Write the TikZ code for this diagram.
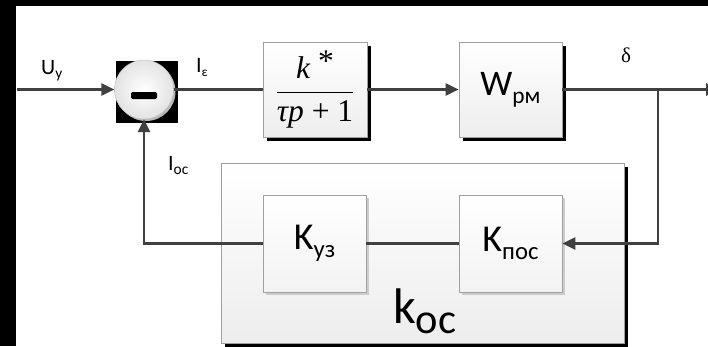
\documentclass[tikz,border=0pt]{standalone}
\usepackage{fontspec}
\usepackage{graphicx}
\usepackage{amsmath}
\setmainfont{Carlito}
\newfontfamily\serifx{Liberation Serif}
\usetikzlibrary{arrows.meta,shadows}
\definecolor{ln}{HTML}{404040}
\definecolor{bd}{HTML}{A0A0A0}
\newcommand\subx[3][-0.22em]{\raisebox{#1}{\scalebox{#2}{#3}}}
\begin{document}
\begin{tikzpicture}[x=1pt,y=-1pt,
  wire/.style={draw=ln,line width=2.6pt},
  arr/.style={wire,-{Triangle[length=13pt,width=12pt]}},
  blk/.style={draw=bd,line width=0.8pt,top color=white,bottom color=gray!14,inner sep=0pt,
    drop shadow={shadow xshift=4pt,shadow yshift=-4pt,fill=black,opacity=1}},
  inblk/.style={draw=bd,line width=0.8pt,top color=white,bottom color=gray!10,inner sep=0pt,
    drop shadow={shadow xshift=3pt,shadow yshift=-3pt,fill=gray!40,opacity=1}},
  lbl/.style={inner sep=0pt,font=\fontsize{22}{26}\selectfont}
]
\useasboundingbox (0,0) rectangle (708,346);
\fill[white] (0,0) rectangle (708,346);
\fill[black] (0,0) rectangle (16,346);
\fill[black] (0,0) rectangle (708,6);

% big feedback box
\node[blk,minimum width=403pt,minimum height=180pt] (koc) at (422.5,253) {};
\node[inner sep=0pt,anchor=base west,font=\fontsize{50}{60}\selectfont] (koclbl) at (393,323) {k\subx[-0.2em]{0.85}{ос}};

% forward blocks
\node[blk,minimum width=104pt,minimum height=95pt] (b1) at (315,89.5)
  {\scalebox{3.15}{$\dfrac{\text{\serifx\itshape k\upshape\ \raisebox{0.25em}{*}}}{\text{\serifx\itshape τp\upshape\ + 1}}$}};
\node[blk,minimum width=103pt,minimum height=95pt,font=\fontsize{36}{40}\selectfont] (w) at (510.5,89.5)
  {W\subx{0.65}{рм}};

% inner blocks
\node[inblk,minimum width=103pt,minimum height=97pt,font=\fontsize{38}{42}\selectfont] (ky) at (314.5,243.5)
  {K\subx{0.65}{уз}};
\node[inblk,minimum width=103pt,minimum height=97pt,font=\fontsize{38}{42}\selectfont] (kp) at (510.5,243.5)
  {K\subx{0.65}{пос}};

% summing junction
\node[fill=black,minimum size=62pt,inner sep=0pt] (sq) at (147,91.5) {};
\node[circle,minimum size=59pt,inner sep=0pt,inner color=white,outer color=gray!22,draw=gray!50,line width=0.4pt,
  drop shadow={shadow xshift=2pt,shadow yshift=-2pt,fill=gray!55,opacity=1}] (sum) at (144,89.5) {};
\node[fill=black,rounded corners=2pt,minimum width=26pt,minimum height=7pt,inner sep=0pt] (minus) at (144,95.5) {};

% coordinates
\coordinate (in) at (17,89.5);
\coordinate (out) at (719,89.5);
\coordinate (br) at (658,89.5);
\coordinate (brd) at (658,243.5);
\coordinate (fb) at (144,243.5);

% wires
\draw[arr] (in) -- (sum.west);
\draw[wire] (sum.east) -- (b1.west);
\draw[arr] (b1.east) -- (w.west);
\draw[arr] (w.east) -- (out);
\draw[arr] (br) -- (brd) -- (kp.east);
\draw[wire] (kp.west) -- (ky.east);
\draw[arr] (ky.west) -- (fb) -- (sum.south);

% labels
\node[lbl,anchor=base west] (uy) at (41,74) {U\subx{0.7}{у}};
\node[lbl,anchor=base west] (ie) at (196,72) {I\subx{0.6}{ε}};
\node[lbl,anchor=base west] (ioc) at (168,170) {I\subx{0.7}{ос}};
\node[inner sep=0pt,font=\serifx\fontsize{21}{24}\selectfont] (delta) at (626,55) {δ};
\end{tikzpicture}
\end{document}
